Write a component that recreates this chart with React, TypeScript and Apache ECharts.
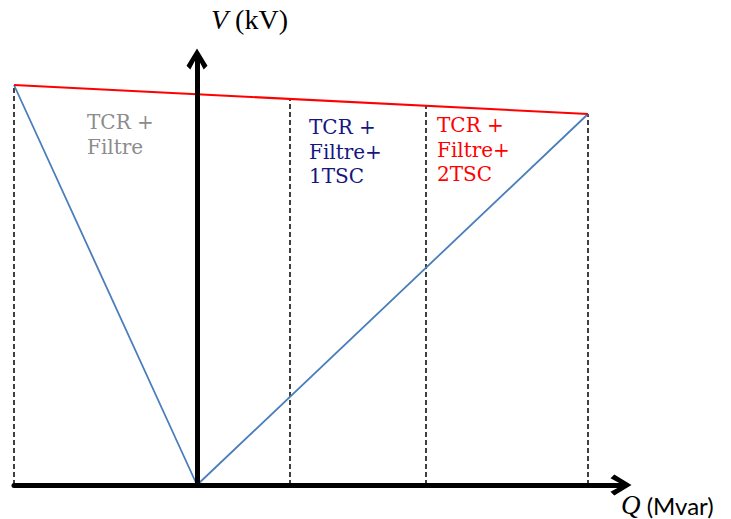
import React, { useEffect, useRef } from "react";
import * as echarts from "echarts";

// Schematic V–Q characteristic (values in arbitrary chart units)
const boundaryQ = [-1.83, 0.93, 2.29, 3.91];
const boundaryTopV = [4.0, 3.87, 3.8, 3.71];
const redLineQ = [-1.83, 3.91];
const redLineV = [4.0, 3.71];
const blueLineQ = [-1.83, 0, 3.91];
const blueLineV = [4.0, 0, 3.71];
const qRange = [-1.83, 4.28];
const vRange = [0, 4.3];
const regionLabels = ["TCR +\nFiltre", "TCR +\nFiltre+\n1TSC", "TCR +\nFiltre+\n2TSC"];
const regionColors = ["#8c8c8c", "#16167f", "#ff0000"];
const yAxisName = "V";
const yAxisUnit = " (kV)";
const xAxisName = "Q";
const xAxisUnit = " (Mvar)";

const chevron = "path://M11 0L22 18L18 22L11 9L4 22L0 18Z";

export default function App() {
  const ref = useRef<HTMLDivElement>(null);
  useEffect(() => {
    document.body.style.margin = "0";
    if (!ref.current) return;
    const chart = echarts.init(ref.current, undefined, { renderer: "svg" });

    const axisLineStyle = { color: "#000", width: 5 };

    const dashedSeries = boundaryQ.map((q, i) => ({
      type: "line",
      data: [
        [q, 0],
        [q, boundaryTopV[i]],
      ],
      showSymbol: false,
      silent: true,
      z: 1,
      lineStyle: { color: "#000", width: 1.5, type: [5, 3] },
    }));

    const labelPos = [
      { x: 87, y: 110 },
      { x: 309, y: 115 },
      { x: 437, y: 113 },
    ];

    chart.setOption({
      animation: false,
      grid: { left: 14, right: 731 - 625, top: 55, bottom: 34 },
      xAxis: {
        type: "value",
        min: qRange[0],
        max: qRange[1],
        z: 10,
        axisLine: {
          show: true,
          onZero: true,
          symbol: ["none", chevron],
          symbolSize: [23, 21],
          symbolOffset: [0, -4],
          lineStyle: axisLineStyle,
        },
        axisTick: { show: false },
        axisLabel: { show: false },
        splitLine: { show: false },
      },
      yAxis: {
        type: "value",
        min: vRange[0],
        max: vRange[1],
        z: 10,
        axisLine: {
          show: true,
          onZero: true,
          symbol: ["none", chevron],
          symbolSize: [23, 21],
          symbolOffset: [0, -4],
          lineStyle: axisLineStyle,
        },
        axisTick: { show: false },
        axisLabel: { show: false },
        splitLine: { show: false },
      },
      series: [
        ...dashedSeries,
        {
          type: "line",
          data: blueLineQ.map((q, i) => [q, blueLineV[i]]),
          showSymbol: false,
          silent: true,
          z: 2,
          lineStyle: { color: "#4a7ebb", width: 1.8 },
        },
        {
          type: "line",
          data: redLineQ.map((q, i) => [q, redLineV[i]]),
          showSymbol: false,
          silent: true,
          z: 3,
          lineStyle: { color: "#ff0000", width: 2 },
        },
      ],
      graphic: [
        ...regionLabels.map((t, i) => ({
          type: "text",
          x: labelPos[i].x,
          y: labelPos[i].y,
          silent: true,
          style: {
            text: t,
            fill: regionColors[i],
            font: "20px 'DejaVu Serif'",
            lineHeight: 24.5,
            verticalAlign: "top",
            align: "left",
          },
        })),
        {
          type: "text",
          x: 211,
          y: 19,
          silent: true,
          style: {
            text: "{i|" + yAxisName + "}" + yAxisUnit,
            fill: "#000",
            font: "28px 'Liberation Serif'",
            verticalAlign: "middle",
            align: "left",
            rich: {
              i: { fontStyle: "italic", fontFamily: "Liberation Serif", fontSize: 28, fill: "#000" },
            },
          },
        },
        {
          type: "text",
          x: 621,
          y: 505,
          silent: true,
          style: {
            text: "{i|" + xAxisName + "}" + xAxisUnit,
            fill: "#000",
            font: "24px Lato",
            verticalAlign: "middle",
            align: "left",
            rich: {
              i: { fontStyle: "italic", fontFamily: "Liberation Serif", fontSize: 27, fill: "#000" },
            },
          },
        },
      ],
    });
    return () => chart.dispose();
  }, []);
  return <div ref={ref} style={{ width: 731, height: 519 }} />;
}
